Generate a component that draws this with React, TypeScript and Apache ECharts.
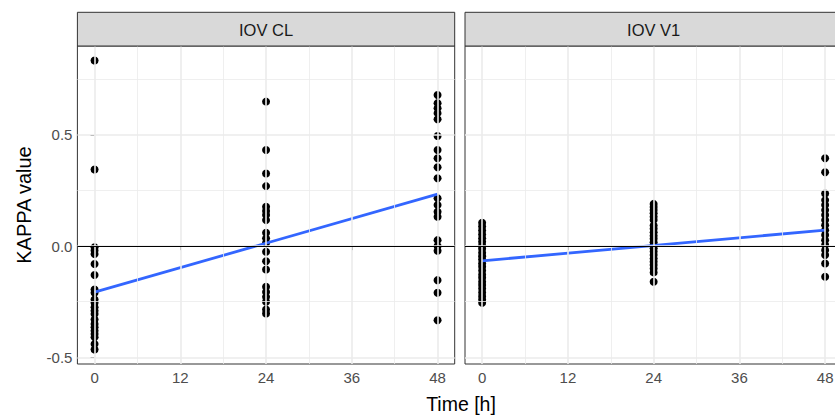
import React, { useEffect, useRef } from "react";
import * as echarts from "echarts";

const panels = ["IOV CL", "IOV V1"];
const times = [0, 24, 48];
const xTicks = [0, 12, 24, 36, 48];
const xMinor = [6, 18, 30, 42];
const yTicks = [-0.5, 0, 0.5];
const yMinor = [-0.25, 0.25, 0.75];

const cl0 = [0.835, 0.345, -0.005, -0.02, -0.035, -0.08, -0.13, -0.195, -0.21, -0.24, -0.255, -0.275, -0.29, -0.305, -0.33, -0.35, -0.365, -0.38, -0.395, -0.41, -0.44, -0.465];
const cl24 = [0.65, 0.432, 0.327, 0.27, 0.177, 0.158, 0.14, 0.117, 0.06, 0.035, 0.015, -0.025, -0.068, -0.105, -0.183, -0.206, -0.228, -0.25, -0.285, -0.303];
const cl48 = [0.68, 0.643, 0.62, 0.598, 0.571, 0.495, 0.432, 0.395, 0.355, 0.305, 0.215, 0.185, 0.155, 0.132, 0.027, 0.001, -0.021, -0.153, -0.21, -0.333];

const v10 = [0.105, 0.088, 0.07, 0.052, 0.035, 0.02, 0.003, -0.012, -0.03, -0.045, -0.06, -0.078, -0.093, -0.11, -0.128, -0.142, -0.16, -0.175, -0.19, -0.208, -0.225, -0.24, -0.255];
const v124 = [0.19, 0.176, 0.163, 0.148, 0.132, 0.118, 0.093, 0.078, 0.062, 0.047, 0.033, 0.018, 0.004, -0.01, -0.024, -0.04, -0.056, -0.07, -0.085, -0.1, -0.118, -0.16];
const v148 = [0.395, 0.332, 0.237, 0.207, 0.185, 0.162, 0.14, 0.117, 0.094, 0.072, 0.05, 0.027, 0.005, -0.018, -0.04, -0.078, -0.138];

// fitted linear trend (values at t = 0 and t = 48)
const clFit = [-0.207, 0.234];
const v1Fit = [-0.066, 0.072];

const panelValues = [
  [cl0, cl24, cl48],
  [v10, v124, v148],
];
const fits = [clFit, v1Fit];

const FONT = "'Liberation Sans', Arial, sans-serif";

export default function App() {
  const ref = useRef<HTMLDivElement>(null);

  useEffect(() => {
    if (!ref.current) return;
    const chart = echarts.init(ref.current, undefined, { renderer: "svg" });

    const gridLeft = [77.4, 465];
    const gridW = 377.3;
    const gridTop = 46;
    const gridH = 318;

    const grids = gridLeft.map((l) => ({
      left: l,
      top: gridTop,
      width: gridW,
      height: gridH,
      show: true,
      backgroundColor: "#FFFFFF",
      borderColor: "#333333",
      borderWidth: 1,
    }));

    const xAxes = gridLeft.map((_, i) => ({
      type: "value",
      gridIndex: i,
      min: -2.4,
      max: 50.4,
      axisLine: { show: false },
      splitLine: { show: false },
      axisTick: {
        show: true,
        customValues: xTicks,
        length: 4,
        lineStyle: { color: "#333333", width: 1 },
      },
      axisLabel: {
        show: true,
        customValues: xTicks,
        color: "#4D4D4D",
        fontSize: 15,
        fontFamily: FONT,
        margin: 6,
      },
    }));

    const yAxes = gridLeft.map((_, i) => ({
      type: "value",
      gridIndex: i,
      min: -0.53,
      max: 0.9,
      axisLine: { show: false },
      splitLine: { show: false },
      axisTick: {
        show: i === 0,
        customValues: yTicks,
        length: 4,
        lineStyle: { color: "#333333", width: 1 },
      },
      axisLabel: {
        show: i === 0,
        customValues: yTicks,
        color: "#4D4D4D",
        fontSize: 15,
        fontFamily: FONT,
        margin: 5,
        formatter: (v: number) => v.toFixed(1),
      },
    }));

    const series: any[] = [];
    panels.forEach((_, i) => {
      const pts: number[][] = [];
      panelValues[i].forEach((vals, k) => {
        vals.forEach((v) => pts.push([times[k], v]));
      });
      const minorStyle = { color: "#EBEBEB", width: 0.8, type: "solid" };
      const majorStyle = { color: "#EBEBEB", width: 1.6, type: "solid" };
      const lines: any[] = [];
      xMinor.forEach((x) => lines.push({ xAxis: x, lineStyle: minorStyle }));
      yMinor.forEach((y) => lines.push({ yAxis: y, lineStyle: minorStyle }));
      xTicks.forEach((x) => lines.push({ xAxis: x, lineStyle: majorStyle }));
      yTicks.forEach((y) => lines.push({ yAxis: y, lineStyle: majorStyle }));
      lines.push({ yAxis: 0, lineStyle: { color: "#000000", width: 1.2, type: "solid" } });

      series.push({
        type: "scatter",
        xAxisIndex: i,
        yAxisIndex: i,
        data: pts,
        symbolSize: 0,
        silent: true,
        z: 1,
        markLine: {
          silent: true,
          symbol: ["none", "none"],
          label: { show: false },
          data: lines,
        },
      });
      series.push({
        type: "scatter",
        xAxisIndex: i,
        yAxisIndex: i,
        data: pts,
        symbol: "circle",
        symbolSize: 8,
        itemStyle: { color: "#000000", opacity: 1 },
        z: 2,
      });
      series.push({
        type: "line",
        xAxisIndex: i,
        yAxisIndex: i,
        data: [
          [times[0], fits[i][0]],
          [times[2], fits[i][1]],
        ],
        showSymbol: false,
        symbol: "none",
        lineStyle: { color: "#3366FF", width: 2.8, opacity: 1 },
        z: 3,
      });
    });

    const graphics: any[] = [];
    panels.forEach((name, i) => {
      graphics.push({
        type: "rect",
        shape: { x: gridLeft[i], y: 12.3, width: gridW, height: gridTop - 12.3 },
        style: { fill: "#D9D9D9", stroke: "#333333", lineWidth: 1 },
        z: 10,
      });
      graphics.push({
        type: "text",
        x: gridLeft[i] + gridW / 2,
        y: 29.5,
        style: {
          text: name,
          fill: "#1A1A1A",
          fontSize: 16.5,
          fontFamily: FONT,
          textAlign: "center",
          textVerticalAlign: "middle",
        },
        z: 11,
      });
    });
    graphics.push({
      type: "text",
      x: 24,
      y: 205,
      rotation: Math.PI / 2,
      style: {
        text: "KAPPA value",
        fill: "#000000",
        fontSize: 20,
        fontFamily: FONT,
        textAlign: "center",
        textVerticalAlign: "middle",
      },
    });
    graphics.push({
      type: "text",
      x: 461,
      y: 404,
      style: {
        text: "Time [h]",
        fill: "#000000",
        fontSize: 19.5,
        fontFamily: FONT,
        textAlign: "center",
        textVerticalAlign: "middle",
      },
    });

    chart.setOption({
      animation: false,
      backgroundColor: "#FFFFFF",
      grid: grids,
      xAxis: xAxes,
      yAxis: yAxes,
      series,
      graphic: graphics,
    });

    return () => chart.dispose();
  }, []);

  return (
    <div
      style={{
        position: "fixed",
        left: 0,
        top: 0,
        width: 835,
        height: 415,
        overflow: "hidden",
        background: "#FFFFFF",
      }}
    >
      <div ref={ref} style={{ width: 850, height: 415 }} />
    </div>
  );
}
